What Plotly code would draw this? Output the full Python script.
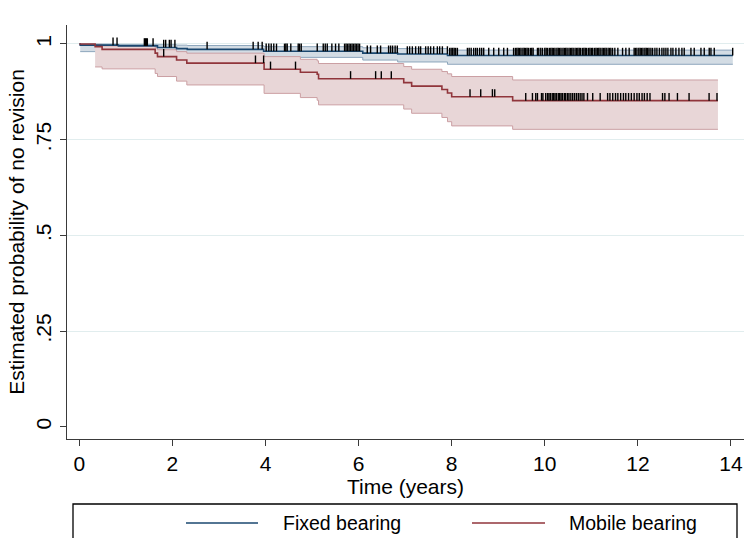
import numpy as np
import plotly.graph_objects as go

# ---------------- data ----------------
# Fixed bearing: Kaplan-Meier step estimates and 95% CI
fixed_t = [0.0, 0.02, 0.84, 1.68, 2.09, 2.32, 3.96, 6.09, 6.84, 7.91]
fixed_s = [1.000, 0.997, 0.995, 0.991, 0.988, 0.986, 0.981, 0.976, 0.974, 0.970]
fixed_lo = [None, 0.980, 0.979, 0.976, 0.974, 0.972, 0.965, 0.958, 0.953, 0.947]
fixed_hi = [None, 0.9997, 0.999, 0.998, 0.997, 0.996, 0.993, 0.990, 0.988, 0.984]
fixed_end = 14.04

# Mobile bearing
mobile_t = [0.0, 0.34, 0.49, 1.63, 1.68, 2.09, 2.31, 3.97, 4.75, 5.11, 5.14,
            6.97, 7.14, 7.79, 7.91, 8.00, 9.31]
mobile_s = [1.000, 0.993, 0.986, 0.976, 0.967, 0.958, 0.950, 0.934, 0.926, 0.921, 0.909,
            0.899, 0.890, 0.881, 0.872, 0.862, 0.852]
mobile_lo = [None, 0.940, 0.935, 0.923, 0.915, 0.903, 0.893, 0.871, 0.860, 0.853, 0.841,
             0.830, 0.819, 0.808, 0.797, 0.786, 0.777]
mobile_hi = [None, 0.999, 0.995, 0.990, 0.985, 0.980, 0.976, 0.967, 0.960, 0.956, 0.949,
             0.941, 0.934, 0.928, 0.922, 0.915, 0.906]
mobile_end = 13.72

# censored observation times (years)
fixed_cens = [0.725, 0.811, 1.398, 1.419, 1.441, 1.462, 1.585, 1.813, 1.856, 1.935, 1.972, 2.054,
              2.746, 3.735, 3.843, 3.929, 4.015, 4.071, 4.123, 4.178, 4.237, 4.409, 4.437, 4.467,
              4.544, 4.703, 4.731, 4.768, 5.112, 5.241, 5.284, 5.327, 5.426, 5.505, 5.576,
              5.699, 5.731, 5.763, 5.796, 5.828, 5.860, 5.892, 5.925, 5.957, 5.989, 6.022,
              6.187, 6.258, 6.402, 6.473, 6.645, 6.688, 6.731, 6.785, 6.832, 7.047, 7.097,
              7.155, 7.226, 7.290, 7.333, 7.441, 7.495, 7.548, 7.613, 7.692, 7.742, 7.800,
              7.908, 7.957, 7.989, 8.022, 8.054, 8.086, 8.123, 8.338, 8.376, 8.419, 8.473,
              8.516, 8.553, 8.602, 8.645, 8.688, 8.796, 8.903, 9.011, 9.118, 9.198,
              9.33, 9.37, 9.40, 9.43, 9.46, 9.49, 9.53, 9.56, 9.59, 9.62, 9.65, 9.69, 9.72, 9.75,
              9.843, 9.871, 9.914, 9.951,
              10.00, 10.03, 10.06, 10.10, 10.13, 10.16, 10.19, 10.22, 10.26, 10.29, 10.32, 10.35,
              10.39, 10.42, 10.45, 10.48, 10.52, 10.55, 10.58, 10.61, 10.65, 10.68, 10.71, 10.74,
              10.77, 10.81,
              10.84, 10.87, 10.90, 10.94, 10.97, 11.00, 11.03, 11.07, 11.10, 11.13, 11.16, 11.19,
              11.23, 11.26, 11.29, 11.32, 11.36, 11.39, 11.42,
              11.456, 11.505, 11.570, 11.671, 11.742, 11.813,
              11.92, 11.95, 11.98, 12.02, 12.05, 12.08, 12.11, 12.15, 12.18, 12.21, 12.24, 12.28,
              12.316, 12.366, 12.409, 12.462, 12.516, 12.559, 12.602, 12.645, 12.710, 12.753,
              12.817, 12.882, 12.946, 12.996, 13.140, 13.211, 13.355, 13.426, 13.533, 13.570,
              13.641, 14.037]

mobile_cens = [1.813, 3.785, 3.96, 4.108, 4.645, 5.828, 6.366, 6.488, 6.703, 8.394, 8.624,
               8.875, 8.925, 9.591, 9.735, 9.806, 9.843, 9.93, 9.96, 10.02,
               10.06, 10.09, 10.12, 10.16, 10.19, 10.22, 10.25, 10.29, 10.32, 10.35, 10.38, 10.42,
               10.45, 10.49, 10.52, 10.56, 10.60, 10.64, 10.68, 10.72, 10.76, 10.80, 10.84,
               10.918, 11.03, 11.19,
               11.35, 11.40, 11.46, 11.52, 11.57, 11.63, 11.69, 11.74, 11.80, 11.86, 11.92, 11.98,
               12.03, 12.09, 12.14, 12.20, 12.26, 12.53, 12.58, 12.67, 12.85, 13.10, 13.53, 13.70]

x_ticks = [0, 2, 4, 6, 8, 10, 12, 14]
y_ticks = [0, 0.25, 0.5, 0.75, 1]
y_tick_text = ["0", ".25", ".5", ".75", "1"]
group_names = ["Fixed bearing", "Mobile bearing"]

# ---------------- style ----------------
FONT = "Liberation Sans, Arial, sans-serif"
BLUE = "#1A476F"
RED = "#90353B"
BLUE_FILL = "#D3DCE4"
BLUE_EDGE = "#8DA6BC"
RED_FILL = "#E8D6D7"
RED_EDGE = "#CB9FA3"
TICK_LEN = 0.020
FS = 21

fig = go.Figure()


def add_band(t, lo, hi, end, fill, edge):
    bx = t[1:] + [end]
    blo = lo[1:] + [lo[-1]]
    bhi = hi[1:] + [hi[-1]]
    fig.add_trace(go.Scatter(x=bx, y=blo, mode="lines", showlegend=False, hoverinfo="skip",
                             line=dict(shape="hv", color=edge, width=1)))
    fig.add_trace(go.Scatter(x=bx, y=bhi, mode="lines", showlegend=False, hoverinfo="skip",
                             line=dict(shape="hv", color=edge, width=1),
                             fill="tonexty", fillcolor=fill))


def add_curve(t, s, end, color, name):
    fig.add_trace(go.Scatter(x=t + [end], y=s + [s[-1]], mode="lines", name=name,
                             showlegend=False, line=dict(shape="hv", color=color, width=1.6)))


def add_censor(t, s, cens):
    ta = np.array(t)
    sa = np.array(s)
    xs, ys = [], []
    for c in cens:
        v = sa[np.searchsorted(ta, c, side="right") - 1]
        xs += [c, c, None]
        ys += [v, v + TICK_LEN, None]
    fig.add_trace(go.Scatter(x=xs, y=ys, mode="lines", showlegend=False, hoverinfo="skip",
                             line=dict(color="black", width=1.4)))


add_band(fixed_t, fixed_lo, fixed_hi, fixed_end, BLUE_FILL, BLUE_EDGE)
add_band(mobile_t, mobile_lo, mobile_hi, mobile_end, RED_FILL, RED_EDGE)
add_curve(fixed_t, fixed_s, fixed_end, BLUE, group_names[0])
add_curve(mobile_t, mobile_s, mobile_end, RED, group_names[1])
add_censor(fixed_t, fixed_s, fixed_cens)
add_censor(mobile_t, mobile_s, mobile_cens)

# legend drawn as a box below the plot (paper coordinates)
W, H = 754, 538
L, R, T, B = 67, 10, 25, 99
pw, ph = W - L - R, H - T - B


def px_x(p):
    return (p - L) / pw


def px_y(p):
    return (H - B - p) / ph


shapes = [
    dict(type="rect", xref="paper", yref="paper", x0=px_x(73), x1=px_x(737),
         y0=px_y(548), y1=px_y(504), line=dict(color="black", width=1.3), fillcolor="white"),
    dict(type="line", xref="paper", yref="paper", x0=px_x(186), x1=px_x(258),
         y0=px_y(523), y1=px_y(523), line=dict(color=BLUE, width=1.4)),
    dict(type="line", xref="paper", yref="paper", x0=px_x(472), x1=px_x(545),
         y0=px_y(523), y1=px_y(523), line=dict(color=RED, width=1.4)),
]
annotations = [
    dict(xref="paper", yref="paper", x=px_x(281), y=px_y(523), text=group_names[0],
         showarrow=False, xanchor="left", yanchor="middle",
         font=dict(family=FONT, size=19.5, color="black")),
    dict(xref="paper", yref="paper", x=px_x(567), y=px_y(523), text=group_names[1],
         showarrow=False, xanchor="left", yanchor="middle",
         font=dict(family=FONT, size=19.5, color="black")),
]

fig.update_layout(
    width=W, height=H,
    margin=dict(l=L, r=R, t=T, b=B, pad=0),
    paper_bgcolor="white", plot_bgcolor="white",
    showlegend=False,
    shapes=shapes, annotations=annotations,
    font=dict(family=FONT, color="black"),
    xaxis=dict(range=[-0.264, 14.28], tickvals=x_ticks, showgrid=False, zeroline=False,
               showline=True, linecolor="#3a3a3a", linewidth=1.3,
               ticks="outside", ticklen=6, tickwidth=1.3, tickcolor="#3a3a3a",
               tickfont=dict(family=FONT, size=FS, color="black"),
               title=dict(text="Time (years)", font=dict(family=FONT, size=FS, color="black"),
                          standoff=2)),
    yaxis=dict(range=[-0.032, 1.0496], tickvals=y_ticks, ticktext=y_tick_text, tickangle=-90,
               showgrid=True, gridcolor="#E1EDEE", gridwidth=1.2,
               zeroline=True, zerolinecolor="white", zerolinewidth=1,
               showline=True, linecolor="#3a3a3a", linewidth=1.3,
               ticks="outside", ticklen=6, tickwidth=1.3, tickcolor="#3a3a3a",
               tickfont=dict(family=FONT, size=FS, color="black"),
               title=dict(text="Estimated probability of no revision",
                          font=dict(family=FONT, size=FS, color="black"), standoff=2)),
)

fig.write_html("out.html")
